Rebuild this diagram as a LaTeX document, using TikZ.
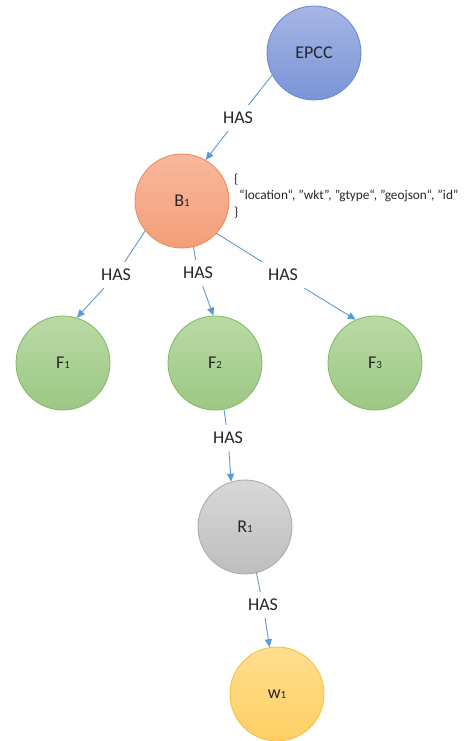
\documentclass[tikz,border=0pt]{standalone}
\usepackage{fontspec}
\setmainfont{Carlito}
\usepackage{xcolor}
\usepackage{tikz}
\usetikzlibrary{arrows.meta,positioning}
\definecolor{linkblue}{RGB}{91,155,213}
\definecolor{epcctop}{RGB}{166,182,228}
\definecolor{epccbot}{RGB}{122,148,216}
\definecolor{epccline}{RGB}{105,134,208}
\definecolor{bldtop}{RGB}{248,184,157}
\definecolor{bldbot}{RGB}{244,158,120}
\definecolor{bldline}{RGB}{237,135,88}
\definecolor{feattop}{RGB}{186,218,165}
\definecolor{featbot}{RGB}{156,200,133}
\definecolor{featline}{RGB}{128,184,98}
\definecolor{roomtop}{RGB}{216,216,216}
\definecolor{roombot}{RGB}{190,190,190}
\definecolor{roomline}{RGB}{168,168,168}
\definecolor{wintop}{RGB}{255,222,142}
\definecolor{winbot}{RGB}{255,207,100}
\definecolor{winline}{RGB}{246,190,54}
\newcommand{\idx}[1]{{\fontsize{11}{11}\selectfont #1}}

\begin{document}
\begin{tikzpicture}[x=1pt,y=-1pt,
    every node/.style={font=\fontsize{18}{20}\selectfont,text=black!85},
    ent/.style={circle,minimum size=94pt,inner sep=0pt,line width=0.8pt},
    rel/.style={inner sep=7pt},
    link/.style={linkblue,line width=0.9pt},
    linkto/.style={link,-{Triangle[length=8pt,width=7pt]}}]
    \useasboundingbox (0,0) rectangle (474,741);

    % Entities
    \node[ent,top color=epcctop,bottom color=epccbot,draw=epccline] (epcc) at (314,53) {EPCC};
    \node[ent,top color=bldtop,bottom color=bldbot,draw=bldline] (b1) at (182,201) {B\idx{1}};
    \foreach \i/\x in {1/63,2/215,3/375} {
        \node[ent,top color=feattop,bottom color=featbot,draw=featline] (f\i) at (\x,363) {F\idx{\i}};
    }
    \node[ent,top color=roomtop,bottom color=roombot,draw=roomline] (r1) at (245,527) {R\idx{1}};
    \node[ent,top color=wintop,bottom color=winbot,draw=winline] (w1) at (277,694) {w\idx{1}};

    % Keys of B1
    \node[anchor=west,align=left,inner sep=0pt,font=\fontsize{13.3}{16.5}\selectfont] (keys) at (234,196)
        {\{\\\hspace*{5pt}“location“, "wkt", "gtype“, "geojson“, "id”\\\}};

    % Relation labels
    \node[rel] (h0) at (238,118) {HAS};
    \node[rel] (h1) at (116,275) {HAS};
    \node[rel] (h2) at (198,273) {HAS};
    \node[rel] (h3) at (283,275) {HAS};
    \node[rel] (h4) at (228,438) {HAS};
    \node[rel] (h5) at (263,605) {HAS};

    % Relations
    \draw[link] (epcc.208) -- (h0);
    \draw[linkto] (h0) -- (b1.60);
    \draw[link] (b1.219) -- (h1);
    \draw[linkto] (h1) -- (f1.73);
    \draw[link] (b1.-76) -- (h2);
    \draw[linkto] (h2) -- (f2.92);
    \draw[link] (b1.-43) -- (h3);
    \draw[linkto] (h3) -- (f3.114);
    \draw[link] (f2.-79) -- (h4);
    \draw[linkto] (h4) -- (r1.107);
    \draw[link] (r1.-76) -- (h5);
    \draw[linkto] (h5) -- (w1.99);
\end{tikzpicture}
\end{document}
